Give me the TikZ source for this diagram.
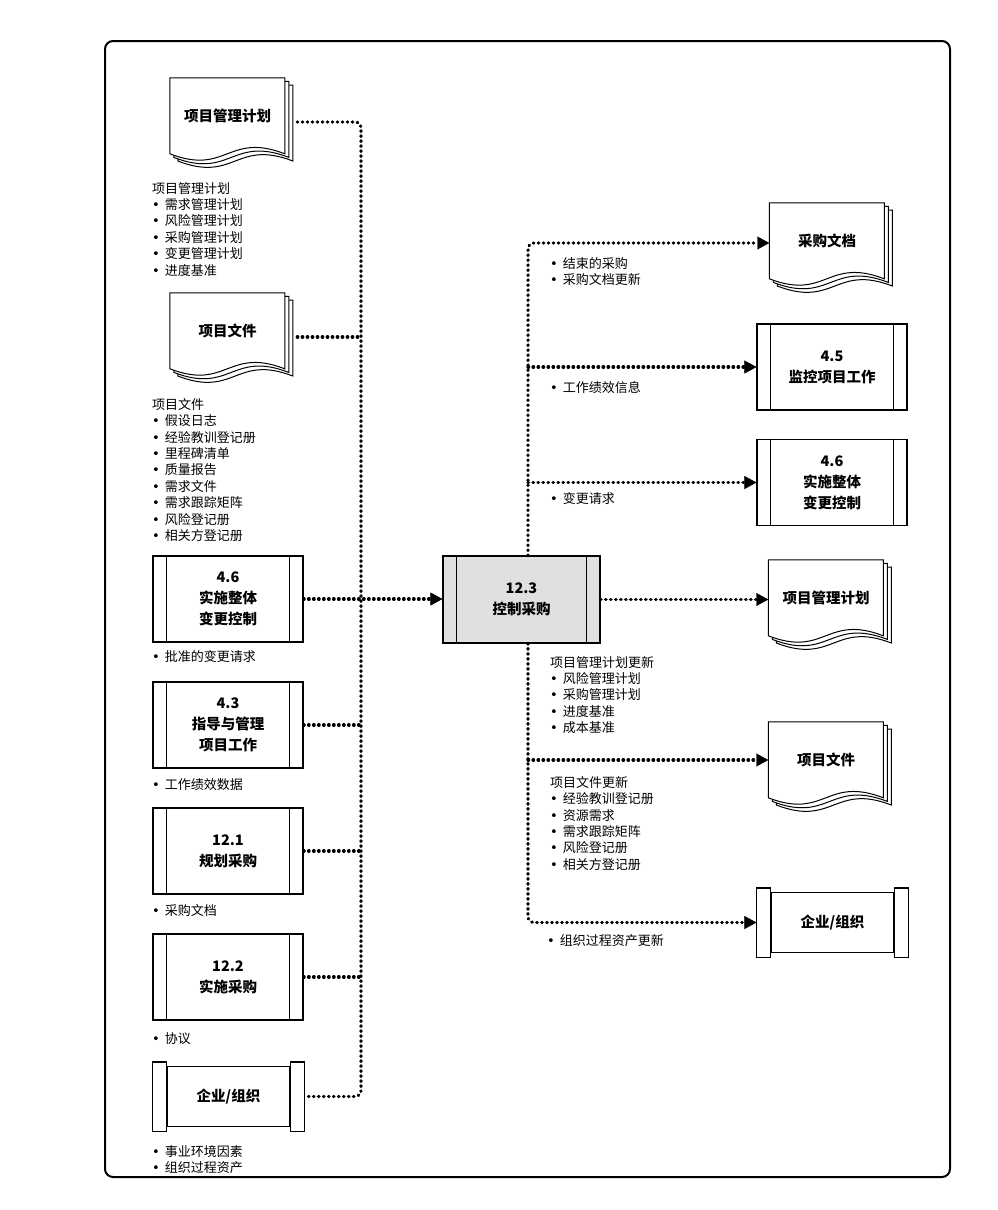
\documentclass[tikz,border=0pt]{standalone}
\usepackage{fontspec}
\setmainfont{Noto Sans CJK SC}
\newfontfamily\bulletfont{DejaVu Sans}
\usepackage{tikz}
\usetikzlibrary{arrows.meta}
\usetikzlibrary{positioning,calc,backgrounds}

\newcommand{\itm}{{\bulletfont •}\hspace{5pt}}

\begin{document}
\begin{tikzpicture}[
  x=1pt, y=-1pt,
  dotline/.style={line width=3.2pt, dash pattern=on 0.6pt off 4.4pt, line cap=round},
  arr/.style={-{Triangle[length=12pt,width=13pt,line width=0.4pt]}},
  bulletlist/.style={anchor=north west, inner sep=0pt, align=left, font=\fontsize{13}{16.4}\selectfont}
]
	\tikzstyle{process} = [rectangle, minimum width=150pt, minimum height=86pt, inner sep=0pt, text centered, align=center, draw=black, line width=1.1pt, font=\fontsize{14.5}{21}\selectfont\bfseries]
	\tikzstyle{docpage} = [rectangle, minimum width=115pt, minimum height=76pt, inner sep=0pt, text centered, align=center, font=\fontsize{14.5}{21}\selectfont\bfseries]
	\tikzstyle{orgbox} = [rectangle, minimum width=123pt, minimum height=60pt, inner sep=0pt, text centered, draw=black, line width=1.1pt, font=\fontsize{14.5}{21}\selectfont\bfseries]

	\useasboundingbox (0,0) rectangle (998,1210);
	\draw[line width=2pt, rounded corners=8pt] (105,41) rectangle (950,1177);

	% inputs
	\node (planDoc) [docpage] at (227.5,116) {项目管理计划};
	\node (projDocs) [docpage] at (227.5,331) {项目文件};
	\node (intChange) [process] at (228,599) {4.6\\实施整体\\变更控制};
	\node (directWork) [process, below of=intChange, node distance=126pt] {4.3\\指导与管理\\项目工作};
	\node (planProc) [process, below of=directWork, node distance=126pt] {12.1\\规划采购};
	\node (conductProc) [process, below of=planProc, node distance=126pt] {12.2\\实施采购};
	\node (orgIn) [orgbox] at (228.5,1096.5) {企业/组织};

	% process
	\node (control) [process, fill=black!12, minimum width=157pt, minimum height=87pt] at (521.5,599.5) {12.3\\控制采购};

	% outputs
	\node (procDocs) [docpage] at (827,241) {采购文档};
	\node (monitorWork) [process] at (832,367) {4.5\\监控项目工作};
	\node (intChangeOut) [process] at (832,482.5) {4.6\\实施整体\\变更控制};
	\node (planDocOut) [docpage] at (826,598) {项目管理计划};
	\node (projDocsOut) [docpage] at (826,760) {项目文件};
	\node (orgOut) [orgbox] at (832.5,922.5) {企业/组织};

	\foreach \n in {intChange,directWork,planProc,conductProc,monitorWork,intChangeOut,control}
		\draw[line width=1.1pt] ([xshift=14pt]\n.north west) -- ([xshift=14pt]\n.south west)
			([xshift=-14pt]\n.north east) -- ([xshift=-14pt]\n.south east);
	\foreach \n in {orgIn,orgOut}
		\draw[line width=1.1pt, fill=white] ([xshift=-14pt,yshift=4pt]\n.north west) rectangle ([yshift=-4pt]\n.south west)
			([yshift=4pt]\n.north east) rectangle ([xshift=14pt,yshift=-4pt]\n.south east);

	\begin{scope}[on background layer]
		\foreach \d in {planDoc,projDocs,procDocs,planDocOut,projDocsOut}
			\foreach \o in {8,4,0}
				\draw[line width=1pt, fill=white] ($(\d.north west)+(\o,\o*0.9)$) -- ++(115,0) -- ++(0,76)
					.. controls +(-57,-22) and +(57,22) .. ++(-115,0) -- cycle;
	\end{scope}

	% left bus
	\coordinate (busL) at (361,0);
	\draw[dotline, rounded corners=6pt] ([xshift=12pt,yshift=-6pt]planDoc.east) -- ([yshift=-6pt]planDoc.east -| busL)
		-- (orgIn.east -| busL) -- ([xshift=14pt]orgIn.east);
	\draw[dotline] ([xshift=12pt,yshift=-6pt]projDocs.east) -- ([yshift=-6pt]projDocs.east -| busL);
	\foreach \n in {directWork,planProc,conductProc}
		\draw[dotline] (\n.east) -- (\n.east -| busL);
	\draw[dotline, arr] (intChange.east) -- (intChange.east -| control.west);

	% right bus
	\coordinate (busR) at (528,0);
	\draw[dotline, arr, rounded corners=6pt] (control.north -| busR) -- ([yshift=-2pt]busR |- procDocs.west) -- ([yshift=-2pt]procDocs.west);
	\draw[dotline, arr] (busR |- monitorWork.west) -- (monitorWork.west);
	\draw[dotline, arr] (busR |- intChangeOut.west) -- (intChangeOut.west);
	\draw[dotline, arr] (control.east) -- (control.east -| planDocOut.west);
	\draw[dotline, arr] (busR |- projDocsOut.west) -- (projDocsOut.west);
	\draw[dotline, arr, rounded corners=6pt] (control.south -| busR) -- (busR |- orgOut.west) -- ([xshift=-14pt]orgOut.west);

	% lists
	\node (planList) [bulletlist] at (152,182) {项目管理计划\\\itm 需求管理计划\\\itm 风险管理计划\\\itm 采购管理计划\\\itm 变更管理计划\\\itm 进度基准};
	\node (docsList) [bulletlist] at (152,398) {项目文件\\\itm 假设日志\\\itm 经验教训登记册\\\itm 里程碑清单\\\itm 质量报告\\\itm 需求文件\\\itm 需求跟踪矩阵\\\itm 风险登记册\\\itm 相关方登记册};
	\node (changeList) [bulletlist] at (152,650) {\itm 批准的变更请求};
	\node (workList) [bulletlist] at (152,778) {\itm 工作绩效数据};
	\node (procList) [bulletlist] at (152,904) {\itm 采购文档};
	\node (agreeList) [bulletlist] at (152,1032) {\itm 协议};
	\node (orgList) [bulletlist] at (152,1145) {\itm 事业环境因素\\\itm 组织过程资产};
	\node (closeList) [bulletlist] at (550,257) {\itm 结束的采购\\\itm 采购文档更新};
	\node (perfList) [bulletlist] at (550,381) {\itm 工作绩效信息};
	\node (changeReqList) [bulletlist] at (550,492) {\itm 变更请求};
	\node (planUpdList) [bulletlist] at (550,656) {项目管理计划更新\\\itm 风险管理计划\\\itm 采购管理计划\\\itm 进度基准\\\itm 成本基准};
	\node (docsUpdList) [bulletlist] at (550,776) {项目文件更新\\\itm 经验教训登记册\\\itm 资源需求\\\itm 需求跟踪矩阵\\\itm 风险登记册\\\itm 相关方登记册};
	\node (orgUpdList) [bulletlist] at (547,934) {\itm 组织过程资产更新};
\end{tikzpicture}
\end{document}
